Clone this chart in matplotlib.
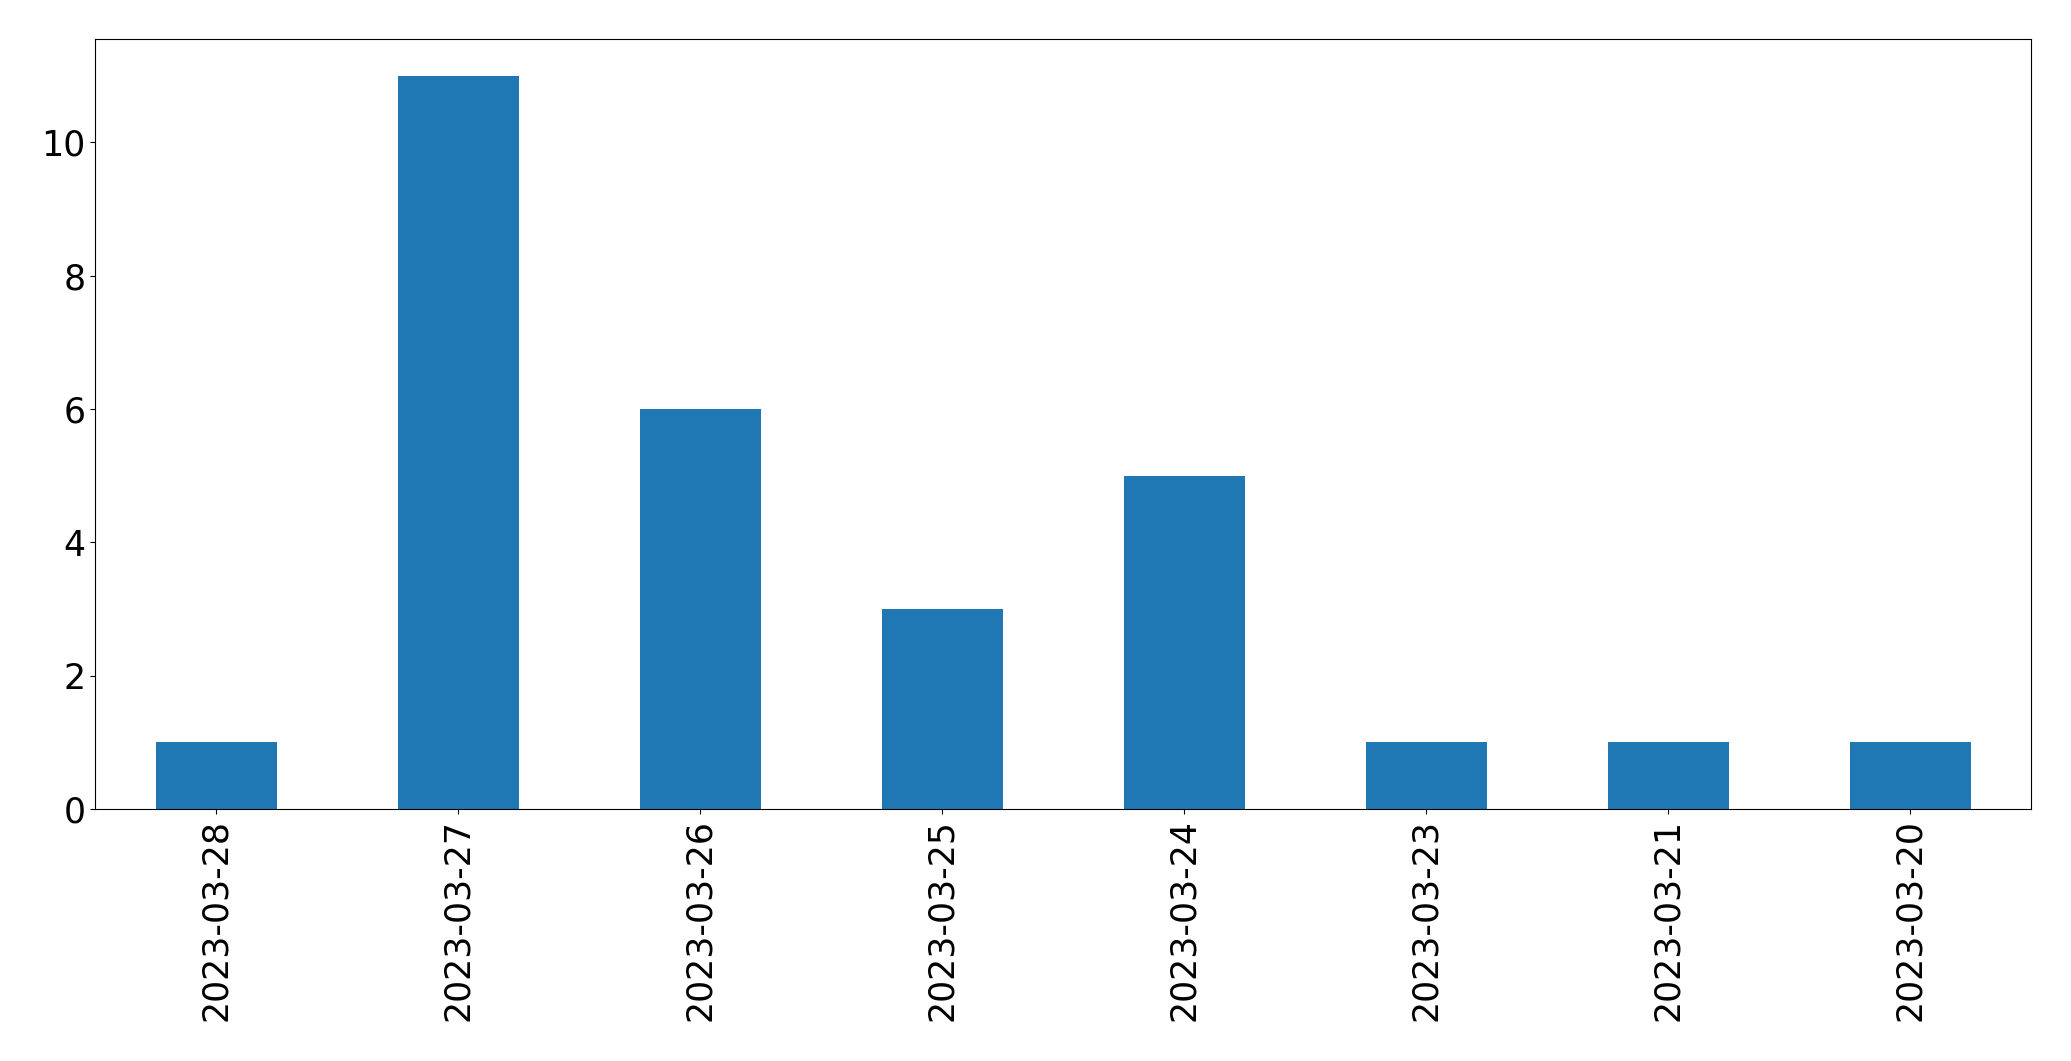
import matplotlib
matplotlib.use('Agg')
import matplotlib.pyplot as plt

# Daily counts, in the order they appear on the chart
dates = ['2023-03-28', '2023-03-27', '2023-03-26', '2023-03-25',
         '2023-03-24', '2023-03-23', '2023-03-21', '2023-03-20']
counts = [1, 11, 6, 3, 5, 1, 1, 1]

fig = plt.figure(figsize=(20.71, 10.61), dpi=100)
ax = fig.add_axes([0.0459, 0.2375, 0.9348, 0.7257])

x = range(len(dates))
ax.bar(x, counts, width=0.5, color='#1f77b4')
ax.set_xlim(-0.5, len(dates) - 0.5)
ax.set_ylim(0, max(counts) * 1.05)
ax.set_xticks(list(x))
ax.set_xticklabels(dates, rotation=90)
ax.tick_params(labelsize=25)

plt.savefig('out.png', dpi=100)
